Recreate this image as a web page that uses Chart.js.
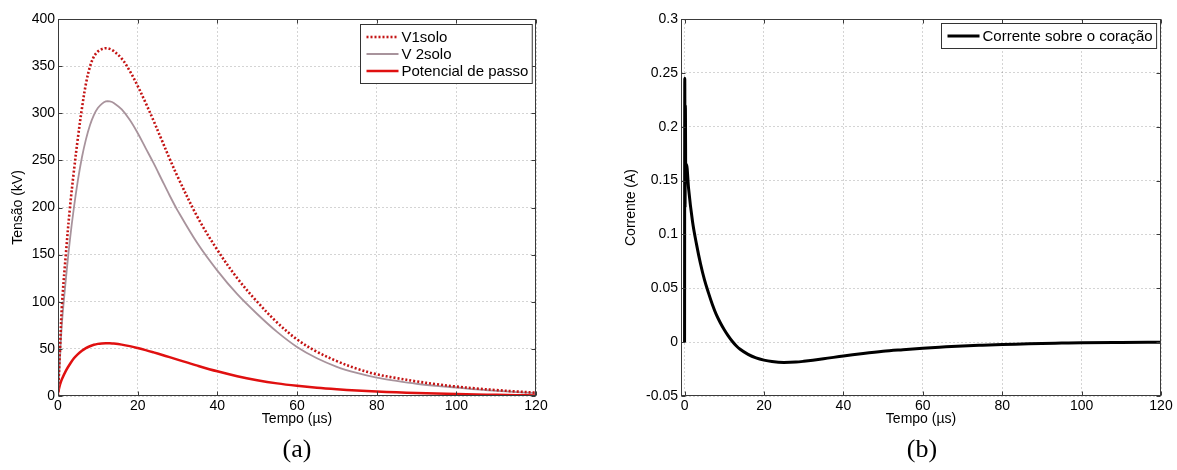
<!DOCTYPE html>
<html>
<head>
<meta charset="utf-8">
<script src="https://cdn.jsdelivr.net/npm/chart.js@4.4.1/dist/chart.umd.min.js"></script>
<style>
  body { margin: 0; background: #fff; width: 1177px; height: 470px; position: relative; overflow: hidden; }
  canvas { position: absolute; top: 0; }
  #voltChart { left: 0; }
  #currChart { left: 600px; }
  .cap { position: absolute; font-family: 'Liberation Serif', 'Times New Roman', serif; font-size: 26px; color: #000; transform: translate(-50%, -50%); }
</style>
</head>
<body>
<canvas id="voltChart" width="560" height="440"></canvas>
<canvas id="currChart" width="577" height="440"></canvas>
<div class="cap" style="left:297px; top:449px">(a)</div>
<div class="cap" style="left:922px; top:449px">(b)</div>
<script>
// ---- data ----
const timeA = [0, 0.5, 1, 2, 3, 4, 5, 6, 7, 8, 9, 10, 11, 12, 13, 14, 16, 18, 20, 22, 24, 26, 28, 30,
    35, 40, 45, 50, 55, 60, 65, 70, 75, 80, 85, 90, 95, 100, 105, 110, 115, 120];
const v1solo = [0, 50, 97, 152, 200, 239, 274, 305, 331, 349, 360, 365.5, 368, 369, 368.3, 366, 358, 345, 329, 311, 292, 272, 252, 233,
    190, 155, 125, 100, 78, 60, 47, 37, 29, 23, 19, 15.5, 12.5, 10, 8, 6.3, 4.8, 3.5];
const v2solo = [0, 40, 78, 125, 166, 200, 229, 253, 272, 287, 298, 305.5, 310, 312.5, 312.5, 311, 304, 293, 279, 263, 247, 230, 213, 197,
    162, 133, 108, 87, 68, 52, 40, 31, 24.5, 19.5, 16, 13, 10.8, 9, 7, 5.5, 4.2, 3];
const passo = [3, 12, 18, 27, 34, 40, 44.5, 48, 50.8, 52.8, 54.3, 55.3, 55.8, 56, 55.9, 55.6, 54.5, 52.9, 50.9, 48.7, 46.3, 43.8, 41.2, 38.6,
    32.2, 26.2, 21, 16.8, 13.4, 10.8, 8.7, 7.1, 5.8, 4.8, 3.9, 3.2, 2.6, 2.1, 1.6, 1.2, 0.9, 0.6];

const timeB = [0, 0.05, 0.12, 0.2, 0.3, 0.5, 1, 2, 3, 4, 5, 6, 7, 8, 9, 10, 11, 12, 13, 14, 16, 18, 20, 22, 25, 28, 30,
    35, 40, 45, 50, 55, 60, 65, 70, 75, 80, 85, 90, 95, 100, 110, 120];
const corrente = [0, 0.245, 0.125, 0.22, 0.15, 0.165, 0.143, 0.112, 0.091, 0.073, 0.058, 0.046, 0.035, 0.0255, 0.018, 0.0115,
    0.0058, 0.0008, -0.0033, -0.0066, -0.0113, -0.0146, -0.0167, -0.018, -0.0188, -0.0185, -0.0178,
    -0.0155, -0.0128, -0.0105, -0.0085, -0.007, -0.0056, -0.0045, -0.0035, -0.0028, -0.0022, -0.0017, -0.0012, -0.0009, -0.0006, -0.0003, -0.0001];

const xTicks = [0, 20, 40, 60, 80, 100, 120];

const FONT = '"Liberation Sans", Arial, Helvetica, sans-serif';
Chart.defaults.font.family = FONT;
Chart.defaults.font.size = 14;
Chart.defaults.color = '#000';

function points(xs, ys) {
    return xs.map((x, i) => ({ x, y: ys[i] }));
}

// box around the plot, inward tick marks and a MATLAB-like legend
const framePlugin = {
    id: 'frame',
    afterDraw(chart, args, opts) {
        const { ctx, chartArea: a, scales } = chart;
        const L = Math.round(a.left) + 0.5, R = Math.round(a.right) - 0.5;
        const T = Math.round(a.top) + 0.5, B = Math.round(a.bottom) - 0.5;
        ctx.save();
        ctx.strokeStyle = '#3a3a3a';
        ctx.lineWidth = 1;
        ctx.setLineDash([]);
        ctx.strokeRect(L, T, R - L, B - T);
        ctx.beginPath();
        scales.x.ticks.forEach(t => {
            const px = Math.round(scales.x.getPixelForValue(t.value)) + 0.5;
            ctx.moveTo(px, B); ctx.lineTo(px, B - 4);
            ctx.moveTo(px, T); ctx.lineTo(px, T + 4);
        });
        scales.y.ticks.forEach(t => {
            const py = Math.round(scales.y.getPixelForValue(t.value)) + 0.5;
            ctx.moveTo(L, py); ctx.lineTo(L + 4, py);
            ctx.moveTo(R, py); ctx.lineTo(R - 4, py);
        });
        ctx.stroke();

        // legend
        const sets = chart.data.datasets;
        ctx.font = '15px ' + FONT;
        const textW = Math.max(...sets.map(d => ctx.measureText(d.label).width));
        const w = 6 + 32 + 3 + textW + 4;
        const h = sets.length * 17 + 8;
        const x0 = Math.round(a.right - opts.right - w) + 0.5;
        const y0 = Math.round(a.top + opts.top) + 0.5;
        ctx.fillStyle = '#fff';
        ctx.fillRect(x0, y0, w, h);
        ctx.strokeStyle = '#333';
        ctx.strokeRect(x0, y0, w, h);
        ctx.textBaseline = 'middle';
        sets.forEach((d, i) => {
            const cy = y0 + 4 + 8.5 + i * 17;
            ctx.save();
            ctx.strokeStyle = d.borderColor;
            ctx.lineWidth = d.borderWidth;
            ctx.setLineDash(d.borderDash || []);
            ctx.beginPath();
            ctx.moveTo(x0 + 6, cy);
            ctx.lineTo(x0 + 38, cy);
            ctx.stroke();
            ctx.restore();
            ctx.fillStyle = '#000';
            ctx.fillText(d.label, x0 + 41, cy + 1);
        });
        ctx.restore();
    }
};

function axisX(min, height) {
    return {
        type: 'linear',
        min,
        max: 120,
        afterBuildTicks: s => { s.ticks = xTicks.map(v => ({ value: v })); },
        afterFit: s => { s.height = height; },
        ticks: { padding: 2, color: '#000', maxRotation: 0 },
        grid: { color: 'rgba(0,0,0,0.17)', drawTicks: false },
        border: { display: false, dash: [2, 2] },
        title: { display: true, text: 'Tempo (µs)', color: '#000', padding: { top: 0, bottom: 12 } }
    };
}

function axisY(min, max, step, width, text, titlePad, fmt) {
    return {
        min,
        max,
        afterFit: s => { s.width = width; },
        ticks: { stepSize: step, padding: 3, color: '#000', callback: fmt },
        grid: { color: 'rgba(0,0,0,0.17)', drawTicks: false },
        border: { display: false, dash: [2, 2] },
        title: { display: true, text, color: '#000', padding: { top: titlePad, bottom: 0 } }
    };
}

function makeChart(canvas, datasets, scales, padding, legendPos, lineOpts) {
    return new Chart(canvas.getContext('2d'), {
        type: 'line',
        data: { datasets },
        options: {
            responsive: false,
            animation: false,
            devicePixelRatio: 1,
            parsing: false,
            layout: { padding },
            elements: { point: { radius: 0 }, line: Object.assign({ borderCapStyle: 'butt' }, lineOpts) },
            plugins: { legend: { display: false }, tooltip: { enabled: false }, frame: legendPos },
            scales
        },
        plugins: [framePlugin]
    });
}

makeChart(document.getElementById('voltChart'), [
    { label: 'V1solo', data: points(timeA, v1solo), borderColor: '#c41414', borderWidth: 2.6, borderDash: [2, 2], fill: false },
    { label: 'V 2solo', data: points(timeA, v2solo), borderColor: '#a8939c', borderWidth: 1.8, fill: false },
    { label: 'Potencial de passo', data: points(timeA, passo), borderColor: '#e01010', borderWidth: 2.5, fill: false }
], {
    x: axisX(0, 44),
    y: axisY(0, 400, 50, 58, 'Tensão (kV)', 10, v => v)
}, { left: 0, top: 19, right: 24, bottom: 0 }, { right: 4, top: 5 }, { tension: 0.35 });

makeChart(document.getElementById('currChart'), [
    { label: 'Corrente sobre o coração', data: points(timeB, corrente), borderColor: '#000', borderWidth: 3, fill: false }
], {
    x: axisX(-0.9, 44),
    y: axisY(-0.05, 0.3, 0.05, 81, 'Corrente (A)', 23, v => String(Number(v.toFixed(2))))
}, { left: 0, top: 19, right: 16, bottom: 0 }, { right: 5, top: 4 }, { cubicInterpolationMode: 'monotone' });
</script>
</body>
</html>
